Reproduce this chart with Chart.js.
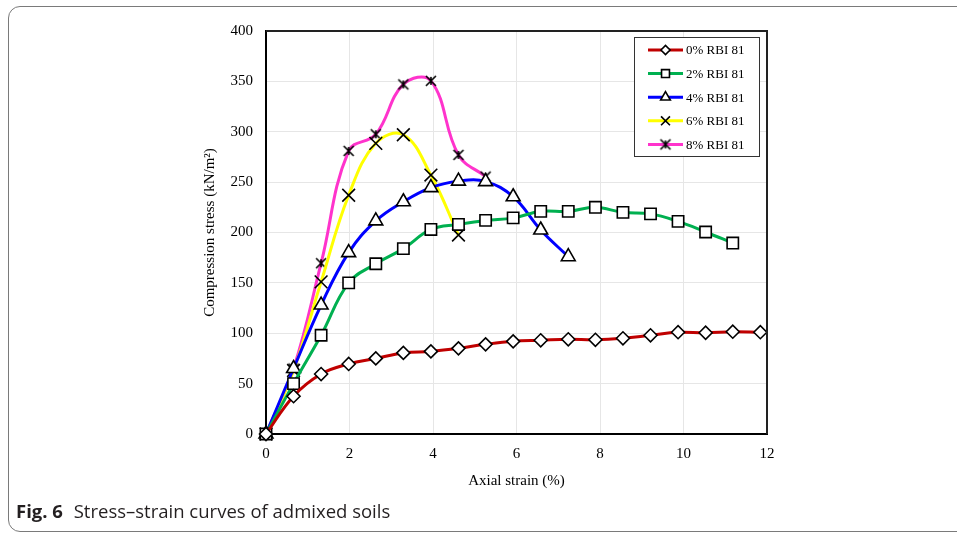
<!DOCTYPE html>
<html>
<head>
<meta charset="utf-8">
<title>Stress–strain curves</title>
<script src="https://cdn.jsdelivr.net/npm/chart.js@4.4.0/dist/chart.umd.min.js"></script>
<style>
  body { margin: 0; background: #fff; }
  #frame {
    position: absolute; left: 8px; top: 6px; width: 1000px; height: 524px;
    border: 1px solid #7a7a7a; border-radius: 12px;
  }
  #wrap { position: absolute; left: 0; top: 0; width: 957px; height: 533px; }
  #caption {
    position: absolute; left: 16px; top: 498px;
    font-family: "Open Sans", sans-serif; font-size: 18.5px; color: #231f20;
    white-space: nowrap;
  }
  #caption b { font-weight: 700; margin-right: 6px; }
</style>
</head>
<body>
<div id="frame"></div>
<div id="wrap"><canvas id="graphique" width="957" height="533"></canvas></div>
<div id="caption"><b>Fig. 6</b> Stress–strain curves of admixed soils</div>
<script>
// axial strain (%) at each reading
const strain = [0, 0.66, 1.32, 1.98, 2.63, 3.29, 3.95, 4.61, 5.26, 5.92, 6.58, 7.24, 7.89, 8.55, 9.21, 9.87, 10.53, 11.18, 11.84];

// compression stress (kN/m2) for each RBI 81 content
const rbi0 = [0, 37.5, 59.5, 69.5, 75, 80.5, 82, 85, 89, 92, 93, 94, 93.5, 95, 98, 101, 100.5, 101.5, 101];
const rbi2 = [0, 50, 98, 150, 169, 184, 203, 208, 212, 214.5, 221, 221, 225, 220, 218.5, 211, 200.5, 189.5];
const rbi4 = [0, 65, 128, 180, 211.5, 230.5, 244.5, 251, 250.5, 235.5, 202.5, 176];
const rbi6 = [0, 63, 151, 237, 288.5, 297, 257, 197.5];
const rbi8 = [0, 65, 169.5, 281, 297.5, 347, 350.5, 277, 255.5];

const seriesNames = ['0% RBI 81', '2% RBI 81', '4% RBI 81', '6% RBI 81', '8% RBI 81'];
const xTicks = [0, 2, 4, 6, 8, 10, 12];
const yTicks = [0, 50, 100, 150, 200, 250, 300, 350, 400];

// asterisk marker: an x with a vertical stroke
function makeStar() {
  const c = document.createElement('canvas');
  c.width = 16; c.height = 16;
  const g = c.getContext('2d');
  g.strokeStyle = '#000';
  g.lineWidth = 1.6;
  g.beginPath();
  g.moveTo(3, 3); g.lineTo(13, 13);
  g.moveTo(13, 3); g.lineTo(3, 13);
  g.moveTo(8, 4); g.lineTo(8, 12);
  g.stroke();
  return c;
}
const star = makeStar();

const styles = [
  { color: '#c00000', point: 'rectRot', radius: 6.5 },
  { color: '#00b050', point: 'rect', radius: 8 },
  { color: '#0000ff', point: 'triangle', radius: 8 },
  { color: '#ffff00', point: 'crossRot', radius: 9 },
  { color: '#ff33cc', point: star, radius: 8 }
];

function toPoints(vals) {
  return vals.map((v, i) => ({ x: strain[i], y: v }));
}

const allSeries = [rbi0, rbi2, rbi4, rbi6, rbi8];
const datasets = allSeries.map((vals, i) => ({
  label: seriesNames[i],
  data: toPoints(vals),
  borderColor: styles[i].color,
  borderWidth: 3,
  tension: 0.4,
  pointStyle: styles[i].point,
  pointRadius: styles[i].radius,
  pointBorderColor: '#000',
  pointBackgroundColor: '#fff',
  pointBorderWidth: 1.6,
  clip: false
}));

// frame round the plot area and the boxed legend in its top right corner
const framePlugin = {
  id: 'framePlugin',
  afterDraw(chart) {
    const ctx = chart.ctx;
    const a = chart.chartArea;
    ctx.save();
    ctx.strokeStyle = '#222';
    ctx.lineWidth = 2;
    ctx.beginPath();
    ctx.moveTo(a.left, a.top);
    ctx.lineTo(a.right, a.top);
    ctx.lineTo(a.right, a.bottom);
    ctx.stroke();

    const bx = 634, by = 37, bw = 125, bh = 119;
    ctx.fillStyle = '#fff';
    ctx.fillRect(bx, by, bw, bh);
    ctx.strokeStyle = '#333';
    ctx.lineWidth = 1;
    ctx.strokeRect(bx + 0.5, by + 0.5, bw, bh);

    ctx.font = '13px "Liberation Serif", "Times New Roman", serif';
    ctx.textBaseline = 'middle';
    ctx.textAlign = 'left';
    seriesNames.forEach((name, i) => {
      const y = 50 + i * 23.6;
      ctx.strokeStyle = styles[i].color;
      ctx.lineWidth = 3;
      ctx.beginPath();
      ctx.moveTo(648, y);
      ctx.lineTo(683, y);
      ctx.stroke();
      ctx.strokeStyle = '#000';
      ctx.fillStyle = '#fff';
      ctx.lineWidth = 1.6;
      Chart.helpers.drawPoint(ctx, {
        pointStyle: styles[i].point,
        radius: styles[i].radius * 0.7,
        borderWidth: 1.6,
        rotation: 0
      }, 665.5, y);
      ctx.fillStyle = '#000';
      ctx.fillText(name, 686, y + 1);
    });
    ctx.restore();
  }
};

const serif = '"Liberation Serif", "Times New Roman", serif';

document.addEventListener('DOMContentLoaded', function() {
  const ctx = document.getElementById('graphique').getContext('2d');
  window.myChart = new Chart(ctx, {
    type: 'line',
    data: { datasets: datasets },
    plugins: [framePlugin],
    options: {
      responsive: false,
      animation: false,
      layout: { padding: { left: 197, top: 31, right: 190, bottom: 39 } },
      plugins: { legend: { display: false }, tooltip: { enabled: false } },
      scales: {
        x: {
          type: 'linear',
          min: 0, max: 12,
          afterFit: s => { s.height = 60; },
          afterBuildTicks: s => { s.ticks = xTicks.map(v => ({ value: v })); },
          grid: { color: '#e6e6e6', drawTicks: false },
          border: { color: '#000', width: 2 },
          ticks: { padding: 11, color: '#000', font: { family: serif, size: 15 } },
          title: {
            display: true, text: 'Axial strain (%)', color: '#000',
            font: { family: serif, size: 15 }
          }
        },
        y: {
          min: 0, max: 400,
          afterFit: s => { s.width = 69; },
          afterBuildTicks: s => { s.ticks = yTicks.map(v => ({ value: v })); },
          grid: { color: '#e6e6e6', drawTicks: false },
          border: { color: '#000', width: 2 },
          ticks: { padding: 13, color: '#000', font: { family: serif, size: 15 } },
          title: {
            display: true, text: 'Compression stress (kN/m²)', color: '#000',
            font: { family: serif, size: 15 }
          }
        }
      }
    }
  });
});
</script>
</body>
</html>
